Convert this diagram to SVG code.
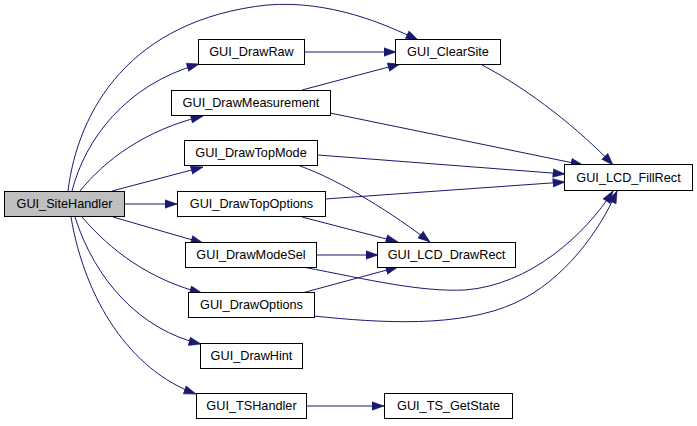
<svg xmlns="http://www.w3.org/2000/svg" width="697" height="426" viewBox="0 0 697 426">
<style>
.n rect{fill:#ffffff;stroke:#000000;stroke-width:1}
.n text{font-family:"Liberation Sans",Arial,sans-serif;font-size:12.7px;fill:#000000;text-anchor:middle}
#n_SiteHandler rect{fill:#bfbfbf}
#edges path{fill:none;stroke:#191970;stroke-width:1;marker-end:url(#a)}
</style>
<defs>
<marker id="a" markerUnits="userSpaceOnUse" markerWidth="14" markerHeight="10" refX="12.5" refY="5" orient="auto">
<path d="M0.5,0.8 L12.5,5 L0.5,9.2 z" fill="#191970" stroke="#191970" stroke-width="0.6"/>
</marker>
</defs>
<rect width="697" height="426" fill="#ffffff"/>
<g id="edges">
<path d="M68,191 C78,110 130,20 267,5 C330,0 385,24 418,40"/>
<path d="M72,191 C85,140 125,85 199,64"/>
<path d="M80,191 C105,160 145,130 203,116"/>
<path d="M112,191 L203,167"/>
<path d="M124,204 L177,204"/>
<path d="M113,217 L203,243"/>
<path d="M82,217 C110,250 150,280 202,293"/>
<path d="M75,217 C95,280 140,330 201,344"/>
<path d="M71,217 C85,300 130,370 196,394"/>
<path d="M304,52 L396,52"/>
<path d="M302,90 L400,64"/>
<path d="M330,113 L583,165"/>
<path d="M318,155 L565,174"/>
<path d="M325,199 L565,182"/>
<path d="M482,65 C530,90 580,130 613,165"/>
<path d="M300,166 C340,180 395,215 430,242"/>
<path d="M302,217 L398,242"/>
<path d="M317,255 L378,255"/>
<path d="M302,293 L398,267"/>
<path d="M303,267 C370,280 420,292 465,290 C530,285 585,235 613,191"/>
<path d="M314,316 C380,323 460,328 515,303 C565,280 600,230 617,191"/>
<path d="M307,406 L384,406"/>
</g>
<g id="n_SiteHandler" class="n"><rect x="4.5" y="191.5" width="120" height="25"/><text x="64.5" y="208">GUI_SiteHandler</text></g>
<g id="n_DrawRaw" class="n"><rect x="198.5" y="39.5" width="106" height="25"/><text x="251.5" y="56">GUI_DrawRaw</text></g>
<g id="n_ClearSite" class="n"><rect x="395.5" y="39.5" width="105" height="25"/><text x="448" y="56">GUI_ClearSite</text></g>
<g id="n_DrawMeasurement" class="n"><rect x="171.5" y="90.5" width="159" height="25"/><text x="251" y="107">GUI_DrawMeasurement</text></g>
<g id="n_DrawTopMode" class="n"><rect x="184.5" y="140.5" width="133" height="25"/><text x="251" y="157">GUI_DrawTopMode</text></g>
<g id="n_DrawTopOptions" class="n"><rect x="177.5" y="191.5" width="148" height="25"/><text x="251.5" y="208">GUI_DrawTopOptions</text></g>
<g id="n_DrawModeSel" class="n"><rect x="185.5" y="242.5" width="131" height="25"/><text x="251" y="259">GUI_DrawModeSel</text></g>
<g id="n_DrawOptions" class="n"><rect x="188.5" y="292.5" width="126" height="25"/><text x="251.5" y="309">GUI_DrawOptions</text></g>
<g id="n_DrawHint" class="n"><rect x="200.5" y="343.5" width="102" height="25"/><text x="251.5" y="360">GUI_DrawHint</text></g>
<g id="n_TSHandler" class="n"><rect x="196.5" y="393.5" width="110" height="25"/><text x="251.5" y="410">GUI_TSHandler</text></g>
<g id="n_LCD_DrawRect" class="n"><rect x="377.5" y="242.5" width="138" height="25"/><text x="446.5" y="259">GUI_LCD_DrawRect</text></g>
<g id="n_TS_GetState" class="n"><rect x="384.5" y="393.5" width="128" height="25"/><text x="448.5" y="410">GUI_TS_GetState</text></g>
<g id="n_LCD_FillRect" class="n"><rect x="564.5" y="164.5" width="128" height="26"/><text x="628.5" y="182">GUI_LCD_FillRect</text></g>
</svg>
